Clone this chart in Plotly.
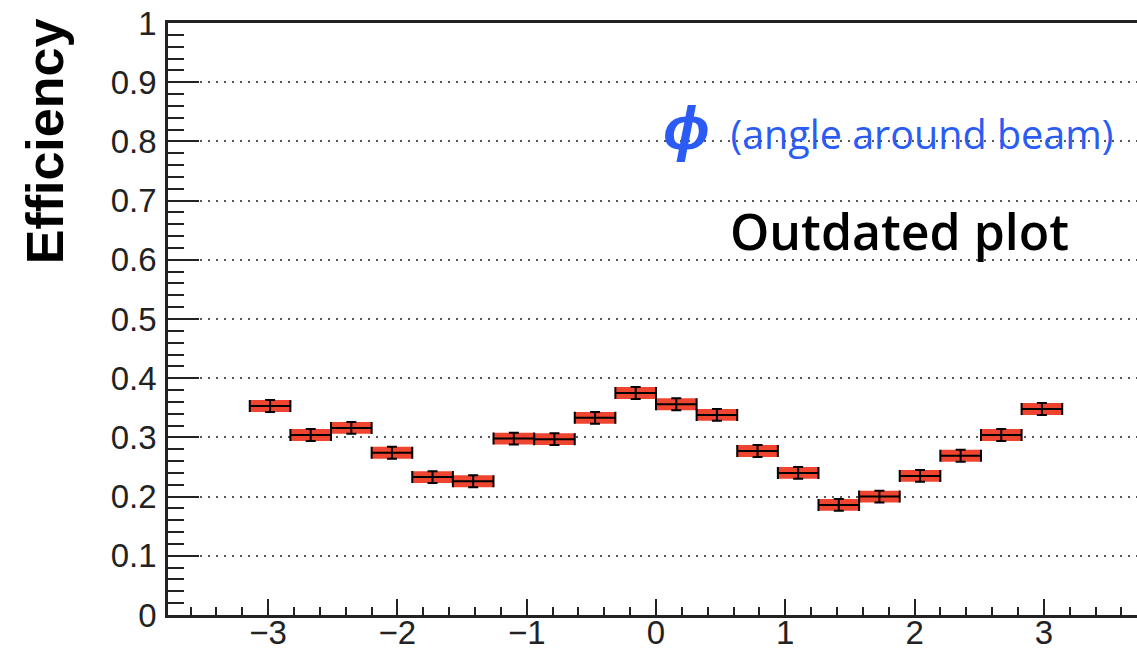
import numpy as np
import plotly.graph_objects as go

# ---- data ----
n_bins = 20
bin_width = np.pi / 10
bin_centers = [-np.pi + bin_width * (i + 0.5) for i in range(n_bins)]
efficiency = [0.353, 0.304, 0.316, 0.274, 0.233, 0.226, 0.298, 0.297, 0.333, 0.375,
              0.356, 0.338, 0.277, 0.240, 0.186, 0.200, 0.235, 0.269, 0.304, 0.348]
eff_error = [0.010, 0.010, 0.010, 0.010, 0.010, 0.010, 0.010, 0.010, 0.010, 0.010,
             0.010, 0.010, 0.010, 0.010, 0.010, 0.010, 0.010, 0.010, 0.010, 0.010]
y_tick_vals = [0, 0.1, 0.2, 0.3, 0.4, 0.5, 0.6, 0.7, 0.8, 0.9, 1]
x_tick_vals = [-3, -2, -1, 0, 1, 2, 3]

RED = "#ee4430"
BLUE = "#2a5cf5"
AXC = "#222222"

fig = go.Figure()

fig.add_trace(go.Bar(
    x=bin_centers,
    y=[2 * e for e in eff_error],
    base=[v - e for v, e in zip(efficiency, eff_error)],
    width=bin_width,
    marker=dict(color=RED, line=dict(width=0)),
    showlegend=False,
    hoverinfo="skip",
))

fig.add_trace(go.Scatter(
    x=bin_centers,
    y=efficiency,
    mode="markers",
    marker=dict(size=0.1, color="black"),
    error_x=dict(type="data", array=[bin_width / 2] * n_bins, color="black",
                 thickness=2, width=6),
    error_y=dict(type="data", array=eff_error, color="black", thickness=2, width=5),
    showlegend=False,
))

tickfont = dict(family="Liberation Sans, Arial, sans-serif", size=33, color=AXC)

fig.update_layout(
    width=1137, height=650,
    margin=dict(l=168, r=0, t=23, b=35),
    paper_bgcolor="white",
    plot_bgcolor="white",
    xaxis=dict(
        range=[-3.774, 3.720],
        automargin=False,
        tickvals=x_tick_vals,
        ticks="inside", ticklen=16, tickwidth=2, tickcolor=AXC,
        minor=dict(dtick=0.2, tick0=0, ticks="inside", ticklen=8, tickwidth=2,
                   tickcolor=AXC, showgrid=False),
        showline=True, linewidth=2.5, linecolor=AXC, mirror=True,
        showgrid=False, zeroline=False,
        tickfont=tickfont,
        ticklabelstandoff=-13,
    ),
    yaxis=dict(
        range=[0, 1],
        automargin=False,
        tickvals=y_tick_vals,
        ticks="inside", ticklen=31, tickwidth=2, tickcolor=AXC,
        minor=dict(dtick=0.02, tick0=0, ticks="inside", ticklen=16, tickwidth=2,
                   tickcolor=AXC, showgrid=False),
        showline=True, linewidth=2.5, linecolor=AXC, mirror=False,
        showgrid=True, gridcolor="#555555", gridwidth=2, griddash="2px,6px",
        zeroline=False,
        tickfont=tickfont,
        ticklabelstandoff=2,
    ),
    annotations=[
        dict(text="<b>Efficiency</b>", textangle=-90,
             xref="paper", yref="paper", x=-0.127, y=0.80,
             xanchor="center", yanchor="middle", showarrow=False,
             font=dict(family="Liberation Sans, Arial, sans-serif", size=52, color="black")),
        dict(text="<b><i><span style='font-size:62px'>ϕ</span></i></b>&nbsp; (angle around beam)",
             xref="paper", yref="paper", x=0.977, y=0.828,
             xanchor="right", yanchor="middle", showarrow=False,
             font=dict(family="Open Sans, sans-serif", size=39.5, color=BLUE, weight=500)),
        dict(text="Outdated plot",
             xref="paper", yref="paper", x=0.932, y=0.648,
             xanchor="right", yanchor="middle", showarrow=False,
             font=dict(family="Open Sans, sans-serif", size=50, color="black", weight=600)),
    ],
)

fig.write_html("out.html")
